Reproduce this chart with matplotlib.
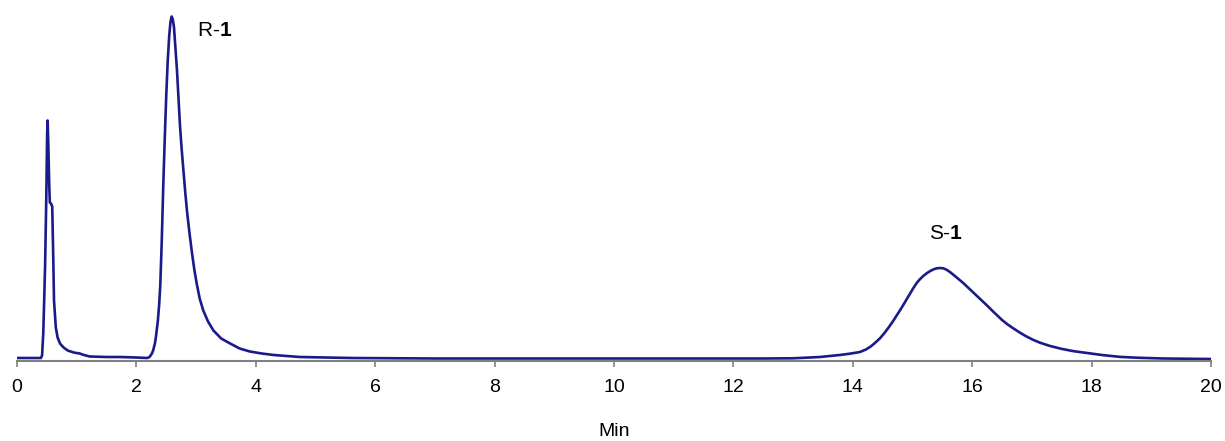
import matplotlib
matplotlib.use("Agg")
import matplotlib.pyplot as plt

plt.rcParams["font.family"] = ["Liberation Sans", "DejaVu Sans"]
plt.rcParams["mathtext.fontset"] = "custom"
plt.rcParams["mathtext.rm"] = "Liberation Sans"
plt.rcParams["mathtext.bf"] = "Liberation Sans:bold"

# retention time (min) and detector signal (arbitrary units)
time_min = [
    0.00, 0.20, 0.40, 0.42, 0.44, 0.47, 0.49, 0.505, 0.513, 0.525, 0.54, 0.55,
    0.57, 0.59, 0.605, 0.62, 0.65, 0.68, 0.72, 0.78, 0.85, 0.95, 1.05, 1.12,
    1.22, 1.50, 1.72, 2.00, 2.18, 2.22, 2.26, 2.28, 2.31, 2.33, 2.36, 2.38,
    2.40, 2.425, 2.45, 2.475, 2.50, 2.525, 2.55, 2.57, 2.59, 2.61, 2.63, 2.655,
    2.68, 2.705, 2.73, 2.76, 2.79, 2.82, 2.85, 2.89, 2.93, 2.97, 3.01, 3.06,
    3.12, 3.20, 3.29, 3.42, 3.57, 3.73, 3.90, 4.10, 4.30, 4.74, 5.20, 5.60,
    6.50, 7.00, 9.00, 11.00, 12.50, 13.00, 13.45, 13.78, 13.95, 14.12, 14.22,
    14.30, 14.38, 14.46, 14.53, 14.60, 14.67, 14.74, 14.81, 14.88, 14.95,
    15.01, 15.07, 15.12, 15.18, 15.24, 15.30, 15.35, 15.40, 15.46, 15.52,
    15.57, 15.62, 15.68, 15.76, 15.85, 15.93, 16.01, 16.10, 16.18, 16.27,
    16.35, 16.43, 16.50, 16.59, 16.68, 16.79, 16.90, 17.02, 17.14, 17.30,
    17.50, 17.70, 17.92, 18.20, 18.48, 18.80, 19.20, 19.60, 20.00,
]
signal = [
    2.5, 2.5, 2.5, 5, 27, 93, 160, 227, 240, 215, 175, 158,
    157, 154, 110, 60, 33, 23, 17, 13, 10, 8, 7, 5.5,
    4, 3.5, 3.5, 3, 2.5, 3.5, 7, 10, 17, 25, 40, 55,
    75, 120, 175, 222, 265, 300, 325, 338, 344, 341, 333, 312,
    290, 262, 235, 210, 188, 167, 148, 127, 108, 91, 77, 62,
    50, 39, 30, 22, 17, 12, 9, 7, 5.5, 3.5, 3, 2.5,
    2.2, 2, 2, 2, 2, 2.2, 3.5, 5.5, 6.8, 8.5, 11,
    14, 18, 22.5, 27.5, 33, 39, 45.5, 52, 59, 66,
    72, 77.5, 81, 84.5, 87.3, 89.6, 91.1, 92.1, 92.5, 92.1,
    90.8, 88.8, 86, 82, 77.5, 73, 68.5, 63.5, 58.8, 53.8,
    49, 44.5, 40.5, 36.2, 32.5, 28.2, 24.3, 20.7, 17.7, 14.6,
    11.6, 9.3, 7.5, 5.3, 3.6, 2.7, 2, 1.7, 1.5,
]

peak_labels = ["R-$\\mathbf{1}$", "S-$\\mathbf{1}$"]
peak_label_x = [3.02, 15.56]
peak_label_y = [330, 127]

fig = plt.figure(figsize=(12.25, 4.41), dpi=100)
ax = fig.add_axes([17 / 1225, 80.5 / 441, 1194 / 1225, 360.5 / 441])

ax.plot(time_min, signal, color="#1a1a8a", linewidth=1.9)

ax.text(peak_label_x[0], peak_label_y[0], peak_labels[0], fontsize=15,
        ha="left", va="center")
ax.text(peak_label_x[1], peak_label_y[1], peak_labels[1], fontsize=15,
        ha="center", va="center")

ax.set_xlim(0, 20)
ax.set_ylim(0, 360.5)
ax.set_xticks(range(0, 21, 2))
ax.set_yticks([])
for side in ["left", "right", "top"]:
    ax.spines[side].set_visible(False)
ax.spines["bottom"].set_color("#808080")
ax.spines["bottom"].set_linewidth(1.5)
ax.tick_params(axis="x", direction="out", length=4, width=1.2, color="#808080",
               labelsize=14, pad=9)
ax.set_xlabel("Min", fontsize=14, labelpad=20)

plt.savefig("out.png", dpi=100)
